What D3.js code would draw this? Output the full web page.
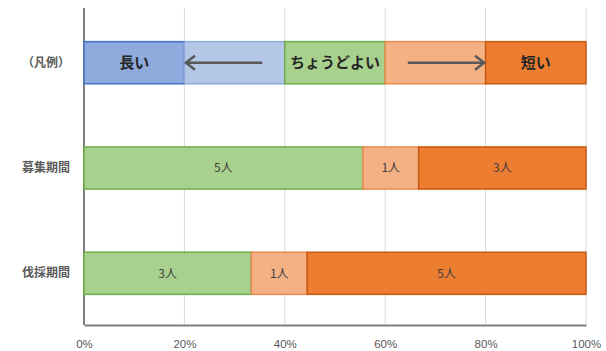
<!DOCTYPE html>
<html><head><meta charset="utf-8">
<script src="https://cdn.jsdelivr.net/npm/d3@7/dist/d3.min.js"></script>
<style>body{margin:0;background:#fff}svg{display:block}</style>
</head><body><svg id="c" width="606" height="351"></svg>
<script>
const categories = ["（凡例）", "募集期間", "伐採期間"];
const legendLabels = ["長い", "", "ちょうどよい", "", "短い"];
const legendShares = [20, 20, 20, 20, 20];
const seriesNames = ["ちょうどよい", "やや短い", "短い"];
const recruitValues = [5, 1, 3];
const loggingValues = [3, 1, 5];
const xTicks = [0, 20, 40, 60, 80, 100];
const titleText = "【表7-1】作業期間の長さについて。";

const legendFill = ["#8faadc", "#b4c7e7", "#a9d18e", "#f4b183", "#ed7d31"];
const legendStroke = ["#4472c4", "#8faadc", "#70ad47", "#e98a4f", "#c55a11"];
const seriesFill = ["#a9d18e", "#f4b183", "#ed7d31"];
const seriesStroke = ["#70ad47", "#e98a4f", "#c55a11"];

const svg = d3.select("#c");
const font = "'Noto Sans CJK JP', 'Noto Sans', sans-serif";
const x = d3.scaleLinear().domain([0, 100]).range([84, 586]);
const y = d3.scaleBand().domain(categories).range([9, 327]).paddingInner(0.6).paddingOuter(0.31);
const axisY = 325;

// title (mostly above the visible area, as in the reference)
svg.append("text").attr("x", 28).attr("y", -2).attr("font-family", font)
  .attr("font-size", 15).attr("font-weight", "bold").attr("fill", "#222").text(titleText);

// gridlines
svg.append("g").selectAll("line").data(xTicks.slice(1)).join("line")
  .attr("x1", d => x(d)).attr("x2", d => x(d)).attr("y1", 8).attr("y2", axisY)
  .attr("stroke", "#d9d9d9").attr("stroke-width", 1);

// x axis
const xAxis = d3.axisBottom(x).tickValues(xTicks).tickFormat(d => d + "%").tickSize(0).tickPadding(15);
const gx = svg.append("g").attr("transform", `translate(0,${axisY})`).call(xAxis);
gx.select(".domain").attr("stroke", "#7f7f7f").attr("stroke-width", 2);
gx.selectAll("text").attr("font-family", "'Liberation Sans', Arial, sans-serif").attr("font-size", 11.5).attr("fill", "#595959");

// y axis
const yAxis = d3.axisLeft(y).tickSize(0).tickPadding(14);
const gy = svg.append("g").attr("transform", `translate(${x(0)},0)`).call(yAxis);
gy.select(".domain").attr("d", `M0,8V${axisY}`).attr("stroke", "#7f7f7f").attr("stroke-width", 2);
gy.selectAll("text").attr("font-family", font).attr("font-size", 12).attr("font-weight", "bold").attr("fill", "#595959");

// stacking helper
function stack(vals) {
  const total = d3.sum(vals);
  let acc = 0;
  return vals.map((v, i) => { const s = acc; acc += v / total * 100; return { i, v, s, e: acc }; });
}

// legend row
const legRow = stack(legendShares);
const gl = svg.append("g");
gl.selectAll("rect").data(legRow).join("rect")
  .attr("x", d => x(d.s)).attr("width", d => x(d.e) - x(d.s))
  .attr("y", y(categories[0])).attr("height", y.bandwidth())
  .attr("fill", d => legendFill[d.i]).attr("stroke", d => legendStroke[d.i]).attr("stroke-width", 1.5);
gl.selectAll("text").data(legRow.filter(d => legendLabels[d.i])).join("text")
  .attr("x", d => x((d.s + d.e) / 2)).attr("y", y(categories[0]) + y.bandwidth() / 2 + 1)
  .attr("text-anchor", "middle").attr("dominant-baseline", "middle")
  .attr("font-family", font).attr("font-size", 15).attr("font-weight", "bold").attr("fill", "#262626")
  .text(d => legendLabels[d.i]);

// arrows
const ym = y(categories[0]) + y.bandwidth() / 2;
const arrows = [[35.5, 20.3], [64.5, 79.7]];
arrows.forEach(([a, b]) => {
  const x1 = x(a), x2 = x(b), dir = Math.sign(x2 - x1);
  svg.append("line").attr("x1", x1).attr("x2", x2 - dir * 1).attr("y1", ym).attr("y2", ym)
    .attr("stroke", "#595959").attr("stroke-width", 2.5);
  svg.append("path").attr("d", `M${x2 - dir * 9},${ym - 7}L${x2},${ym}L${x2 - dir * 9},${ym + 7}`)
    .attr("fill", "none").attr("stroke", "#595959").attr("stroke-width", 2.5).attr("stroke-linejoin", "miter");
});

// data rows
[[categories[1], recruitValues], [categories[2], loggingValues]].forEach(([cat, vals]) => {
  const row = stack(vals);
  const g = svg.append("g");
  g.selectAll("rect").data(row).join("rect")
    .attr("x", d => x(d.s)).attr("width", d => x(d.e) - x(d.s))
    .attr("y", y(cat)).attr("height", y.bandwidth())
    .attr("fill", d => seriesFill[d.i]).attr("stroke", d => seriesStroke[d.i]).attr("stroke-width", 1.5);
  g.selectAll("text").data(row).join("text")
    .attr("x", d => x((d.s + d.e) / 2)).attr("y", y(cat) + y.bandwidth() / 2 + 1)
    .attr("text-anchor", "middle").attr("dominant-baseline", "middle")
    .attr("font-family", font).attr("font-size", 12).attr("fill", "#404040")
    .text(d => d.v + "人");
});
</script></body></html>
